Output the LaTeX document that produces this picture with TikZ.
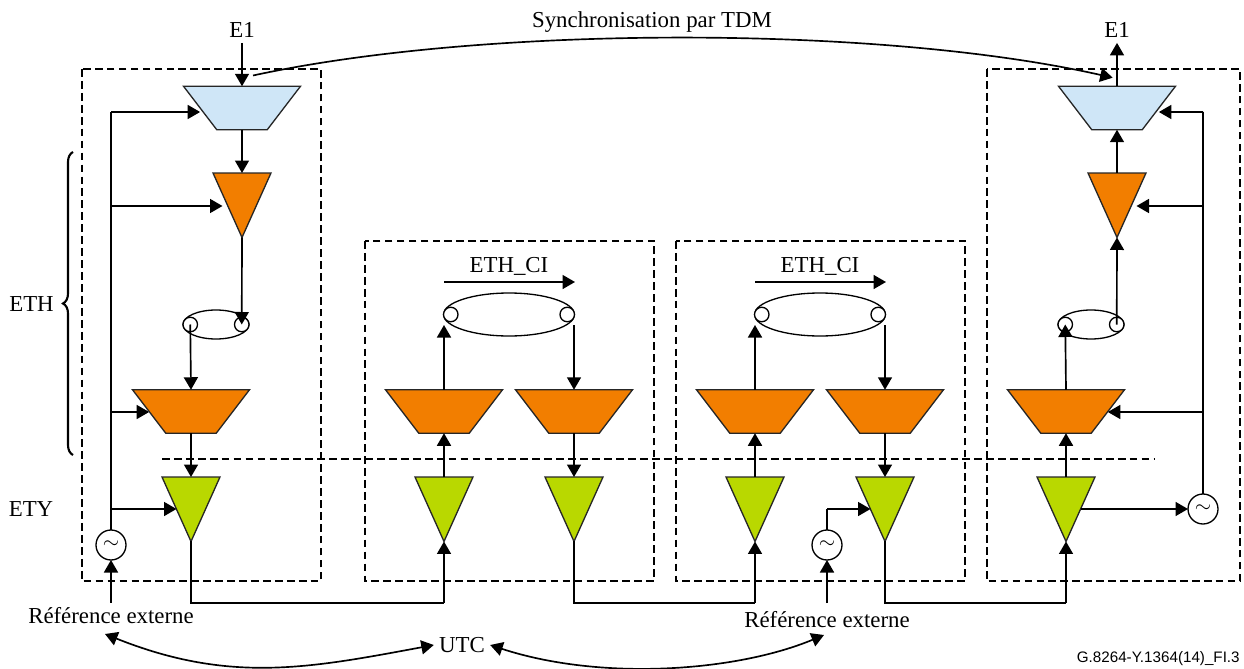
\documentclass[tikz,border=0pt]{standalone}
\usepackage{fontspec}
\setmainfont{Liberation Serif}
\newfontfamily\figfont{Liberation Sans}
\usetikzlibrary{shapes.geometric,arrows.meta,decorations.pathreplacing}
\definecolor{muxblue}{HTML}{CFE6F7}
\definecolor{ethorange}{HTML}{F27E00}
\definecolor{etygreen}{HTML}{B9D800}
\tikzset{
 lbl/.style={inner sep=.1cm,font=\fontsize{13}{15}\selectfont},
 wire/.style={draw=black,line width=.95pt},
 arr/.style={wire,-{Triangle[length=.25cm,width=.28cm]}},
 arrs/.style={wire,{Triangle[length=.25cm,width=.28cm]}-{Triangle[length=.25cm,width=.28cm]}},
 domainbox/.style={line width=1.15pt,dash pattern=on 4.4pt off 2.4pt},
 trap/.style={trapezium,draw=black!85,line width=.75pt,inner sep=1pt,outer sep=0pt,
  trapezium stretches=true,trapezium angle=56.6,shape border rotate=180,
  minimum width=2.34cm,minimum height=.87cm},
 tria/.style={isosceles triangle,draw=black!85,line width=.75pt,inner sep=1pt,outer sep=0pt,
  isosceles triangle stretches=true,shape border rotate=-90,anchor=lower side,
  minimum width=1.16cm,minimum height=1.29cm},
 clk/.style={circle,draw=black,line width=.75pt,inner sep=0pt,outer sep=0pt,minimum size=.6cm,
  font=\fontsize{12}{12}\selectfont},
 cilink/.style={ellipse,draw=black,line width=.75pt,inner sep=0pt,outer sep=0pt},
 ciport/.style={circle,draw=black,fill=white,line width=.75pt,inner sep=0pt,outer sep=0pt,minimum size=.29cm}
}
\newcommand{\trapnode}[3]{%
 \node[trap,fill={#3}] ({#1}) at ({#2}) {};%
}
\newcommand{\trianode}[3]{%
 \node[tria,fill={#3}] ({#1}) at ({#2}) {};%
}
\newcommand{\clknode}[2]{%
 \node[clk] ({#1}) at ({#2}) {$\sim$};%
}
\newcommand{\cinode}[4]{%
 \node[cilink,minimum width={#3},minimum height={#4}] ({#1}) at ({#2}) {};%
 \node[ciport,anchor=west] ({#1w}) at ({#1}.west) {};%
 \node[ciport,anchor=east] ({#1e}) at ({#1}.east) {};%
}
\begin{document}
\begin{tikzpicture}[x=.02cm,y=-.02cm]
 \useasboundingbox (0,0) rectangle (1244,669);
 \draw[domainbox] (82,69) rectangle (321,581);
 \draw[domainbox] (365,241) rectangle (654,581);
 \draw[domainbox] (676,241) rectangle (965,581);
 \draw[domainbox] (987,69) rectangle (1240,581);
 \draw[domainbox] (162,459) -- (1154,459);
 \draw[line width=1.2pt,decorate,decoration={brace,amplitude=.2cm}] (73,455) -- (73,152);
 % left
 \trapnode{muxA}{242,108}{muxblue};
 \trianode{ttpA}{242,173}{ethorange};
 \cinode{ciA}{216,324.5}{1.32cm}{.58cm};
 \trapnode{ethA}{191,411.5}{ethorange};
 \trianode{etyA}{191,477}{etygreen};
 \clknode{clkA}{111,545};
 % middle
 \trapnode{ethB}{444,411.5}{ethorange};
 \trapnode{ethC}{574,411.5}{ethorange};
 \trianode{etyB}{444,477}{etygreen};
 \trianode{etyC}{574,477}{etygreen};
 \cinode{ciB}{509,314.5}{2.62cm}{.86cm};
 \trapnode{ethD}{755,411.5}{ethorange};
 \trapnode{ethE}{885,411.5}{ethorange};
 \trianode{etyD}{755,477}{etygreen};
 \trianode{etyE}{885,477}{etygreen};
 \cinode{ciC}{820,314.5}{2.62cm}{.86cm};
 \clknode{clkB}{827,545};
 % right
 \trapnode{muxF}{1117,108}{muxblue};
 \trianode{ttpF}{1117,173}{ethorange};
 \cinode{ciF}{1091,324.5}{1.32cm}{.58cm};
 \trapnode{ethF}{1066,411.5}{ethorange};
 \trianode{etyF}{1066,477}{etygreen};
 \clknode{clkF}{1203,509};
 % texts
 \node[lbl] (e1A) at (242,30) {E1};
 \node[lbl] (e1F) at (1117,30) {E1};
 \node[lbl] (sync) at (652,22) {Synchronisation par TDM};
 \node[lbl] (eth) at (31.5,304) {ETH};
 \node[lbl] (ety) at (31,509) {ETY};
 \node[lbl] (ciBt) at (509,266) {ETH\_CI};
 \node[lbl] (ciCt) at (820,266) {ETH\_CI};
 \node[lbl] (refA) at (111,616) {Référence externe};
 \node[lbl] (refB) at (827,620) {Référence externe};
 \node[lbl] (utc) at (462,645) {UTC};
 \node[inner sep=0pt,font=\figfont\fontsize{8.65}{10}\selectfont,anchor=east] (figid) at (1240,659) {G.8264-Y.1364(14)\_FI.3};
 % free ends
 \coordinate (busA1) at (111,112);
 \coordinate (busA2) at (111,206);
 \coordinate (busA3) at (111,412);
 \coordinate (busA4) at (111,509);
 \coordinate (busF1) at (1203,112);
 \coordinate (busF2) at (1203,206);
 \coordinate (busF3) at (1203,412);
 \coordinate (syncA) at (253,75.5);
 \coordinate (syncF) at (1112.7,77.7);
 \coordinate (ciBin) at (444,325);
 \coordinate (ciBout) at (574,325);
 \coordinate (ciCin) at (755,325);
 \coordinate (ciCout) at (885,325);
 \coordinate (ciBa) at (444,282);
 \coordinate (ciBb) at (575,282);
 \coordinate (ciCa) at (755,282);
 \coordinate (ciCb) at (886,282);
 \coordinate (utcA) at (105,634);
 \coordinate (utcB) at (824,635);
 \coordinate (lowAB) at (191,603);
 \coordinate (lowBA) at (444,603);
 \coordinate (lowCD) at (574,603);
 \coordinate (lowDC) at (755,603);
 \coordinate (lowEF) at (885,603);
 \coordinate (lowFE) at (1066,603);
 \coordinate (clkBup) at (827,509);
 \coordinate (refBup) at (827,603);
 % left column
 \path[arr] (e1A.south) -- (muxA.north);
 \path[arr] (muxA.south) -- (ttpA.lower side);
 \path[arr] (ttpA.apex) -- (ciAe.center);
 \path[arr] (ciAw.center) -- (ethA.north);
 \path[arr] (ethA.south) -- (etyA.lower side);
 \path[wire] (clkA.north) -- (busA1);
 \path[arr] (busA1) -- ([yshift=-.08cm]muxA.west);
 \path[arr,shorten >=.1cm] (busA2) -- (busA2 -| ttpA.right side);
 \path[arr] (busA3) -- (busA3 -| ethA.west);
 \path[arr] (busA4) -- (busA4 -| etyA.right side);
 \path[arr] (refA.north) -- (clkA.south);
 \path[wire] (etyA.apex) -- (lowAB) -- (lowBA);
 \path[arr] (lowBA) -- (etyB.apex);
 % middle columns
 \path[arr] (etyB.lower side) -- (ethB.south);
 \path[arr] (ethB.north) -- (ciBin);
 \path[arr] (ciBout) -- (ethC.north);
 \path[arr] (ethC.south) -- (etyC.lower side);
 \path[arr] (ciBa) -- (ciBb);
 \path[wire] (etyC.apex) -- (lowCD) -- (lowDC);
 \path[arr] (lowDC) -- (etyD.apex);
 \path[arr] (etyD.lower side) -- (ethD.south);
 \path[arr] (ethD.north) -- (ciCin);
 \path[arr] (ciCout) -- (ethE.north);
 \path[arr] (ethE.south) -- (etyE.lower side);
 \path[arr] (ciCa) -- (ciCb);
 \path[arr] (refBup) -- (clkB.south);
 \path[wire] (clkB.north) -- (clkBup);
 \path[arr] (clkBup) -- (clkBup -| etyE.right side);
 \path[wire] (etyE.apex) -- (lowEF) -- (lowFE);
 \path[arr] (lowFE) -- (etyF.apex);
 % right column
 \path[arr] (etyF.lower side) -- (ethF.south);
 \path[arr] (ethF.north) -- (ciFw.center);
 \path[arr] (ciFe.center) -- (ttpF.apex);
 \path[arr] (ttpF.lower side) -- (muxF.south);
 \path[arr] (muxF.north) -- (e1F.south);
 \path[wire] (clkF.north) -- (busF1);
 \path[arr] (busF1) -- ([yshift=-.08cm]muxF.east);
 \path[arr,shorten >=.1cm] (busF2) -- (busF2 -| ttpF.left side);
 \path[arr] (busF3) -- (busF3 -| ethF.east);
 \path[arr] (clkF.west -| etyF.left side) -- (clkF.west);
 % long curves
 \path[arr] (syncA) .. controls (485,25) and (880,25) .. (syncF);
 \path[arrs] (utcA) .. controls (230,684) and (310,668) .. (utc.west);
 \path[arrs] (utc.east) .. controls (600,681) and (735,672) .. (utcB);
\end{tikzpicture}
\end{document}
